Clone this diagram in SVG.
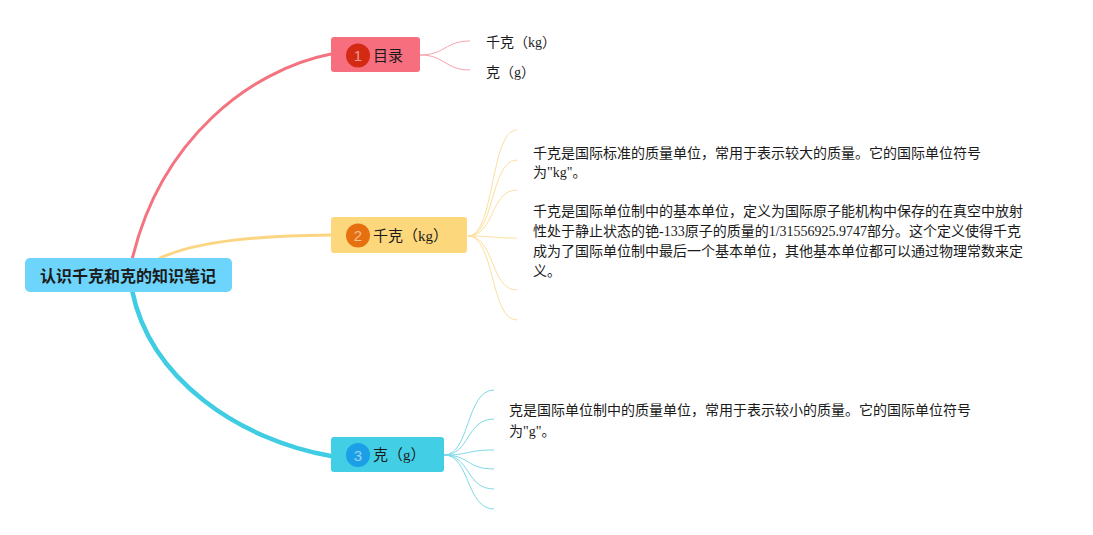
<svg xmlns="http://www.w3.org/2000/svg" width="1093" height="535" viewBox="0 0 1093 535">
<style>
.t{font-family:"Liberation Serif","Noto Sans CJK SC",serif;fill:#1a1a1a;dominant-baseline:central}
.d{font-size:14px}
.n{font-size:15px}
.num{font-family:"Liberation Sans","Noto Sans",sans-serif;font-size:15px;text-anchor:middle;dominant-baseline:central;fill:#ffffff;fill-opacity:0.55}
.root{font-family:"Noto Sans CJK SC",sans-serif;font-size:16px;font-weight:bold;fill:#1a1a1a;text-anchor:middle;dominant-baseline:central}
.c{fill:none;stroke-linecap:round}
</style>
<rect width="1093" height="535" fill="#ffffff"/>
<g id="connectors">
<path class="c" d="M132,260 C160,140 250,70 331,54" stroke="#f3737f" stroke-width="3"/>
<path class="c" d="M160,258 C200,240 260,236 331,235" stroke="#fcd583" stroke-width="3"/>
<path class="c" d="M132,290 C150,380 240,440 331,456" stroke="#40cce2" stroke-width="4.5"/>
<g stroke="#f4a3ab" stroke-width="1" fill="none">
<path d="M420,55 C445,55 445,41 470,41"/>
<path d="M420,55 C445,55 445,70 470,70"/>
</g>
<g stroke="#fbdf9d" stroke-width="1" fill="none">
<path d="M468,236 C495,236 490,130 517,130"/>
<path d="M468,236 C495,236 490,160 517,160"/>
<path d="M468,236 C495,236 490,190 517,190"/>
<path d="M468,236 C495,236 490,238 517,238"/>
<path d="M468,236 C495,236 490,290 517,290"/>
<path d="M468,236 C495,236 490,320 517,320"/>
</g>
<g stroke="#7fd9e9" stroke-width="1" fill="none">
<path d="M444,455 C470,455 466,390 494,390"/>
<path d="M444,455 C470,455 466,419 494,419"/>
<path d="M444,455 C470,455 466,450 494,450"/>
<path d="M444,455 C470,455 466,469 494,469"/>
<path d="M444,455 C470,455 466,489 494,489"/>
<path d="M444,455 C470,455 466,509 494,509"/>
</g>
</g>
<g id="root">
<rect x="25" y="258" width="207" height="34" rx="5" fill="#6dd5fc"/>
<text class="root" x="128" y="275">认识千克和克的知识笔记</text>
</g>
<g id="node1">
<rect x="331" y="37" width="89" height="35" rx="3" fill="#f76e7e"/>
<circle cx="358" cy="55.5" r="12" fill="#d42a14"/>
<text class="num" x="358" y="55.5">1</text>
<text class="t n" x="373" y="55.5">目录</text>
</g>
<g id="node1-a"><text class="t d" x="486" y="42">千克（kg）</text></g>
<g id="node1-b"><text class="t d" x="486" y="72">克（g）</text></g>
<g id="node2">
<rect x="331" y="217" width="136" height="36" rx="3" fill="#fdd77c"/>
<circle cx="358" cy="235.5" r="12" fill="#e6700f"/>
<text class="num" x="358" y="235.5">2</text>
<text class="t n" x="373" y="235.5">千克（kg）</text>
</g>
<g id="node2-a">
<text class="t d" x="533" y="153">千克是国际标准的质量单位，常用于表示较大的质量。它的国际单位符号</text>
<text class="t d" x="533" y="172">为"kg"。</text>
</g>
<g id="node2-b">
<text class="t d" x="533" y="211">千克是国际单位制中的基本单位，定义为国际原子能机构中保存的在真空中放射</text>
<text class="t d" x="533" y="231">性处于静止状态的铯-133原子的质量的1/31556925.9747部分。这个定义使得千克</text>
<text class="t d" x="533" y="251">成为了国际单位制中最后一个基本单位，其他基本单位都可以通过物理常数来定</text>
<text class="t d" x="533" y="271">义。</text>
</g>
<g id="node3">
<rect x="331" y="437" width="113" height="35" rx="3" fill="#42cfe6"/>
<circle cx="358" cy="455" r="12" fill="#1b9fe6"/>
<text class="num" x="358" y="455">3</text>
<text class="t n" x="373" y="455">克（g）</text>
</g>
<g id="node3-a">
<text class="t d" x="509" y="410">克是国际单位制中的质量单位，常用于表示较小的质量。它的国际单位符号</text>
<text class="t d" x="509" y="431">为"g"。</text>
</g>
</svg>
